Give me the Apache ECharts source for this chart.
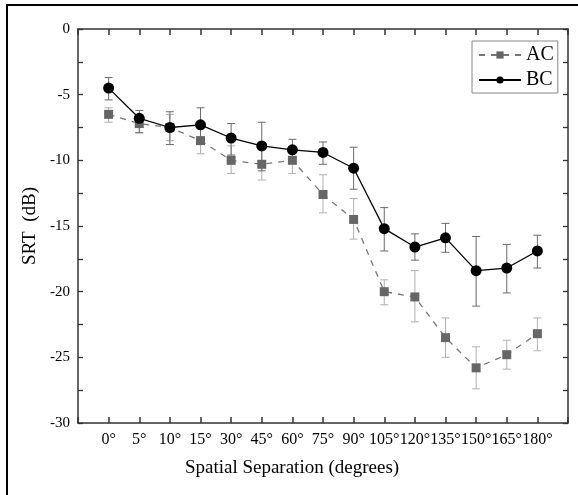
<!DOCTYPE html>
<html>
<head>
<meta charset="utf-8">
<script src="https://cdn.jsdelivr.net/npm/echarts@6/dist/echarts.min.js"></script>
<style>
  html, body { margin: 0; padding: 0; background: #fff; }
  #chart { width: 578px; height: 495px; }
  /* the frame round the figure: only top and left edges show */
  #frame { position: absolute; left: 6px; top: 4px; width: 580px; height: 500px;
           border-left: 2px solid #000; border-top: 2px solid #000; pointer-events: none; }
</style>
</head>
<body>
<div id="chart"></div>
<div id="frame"></div>
<script>
// categories (spatial separation)
var angles = ['0°', '5°', '10°', '15°', '30°', '45°', '60°', '75°', '90°', '105°', '120°', '135°', '150°', '165°', '180°'];

// AC: mean SRT and error bar ends
var acMean = [-6.5, -7.2, -7.5, -8.5, -10.0, -10.3, -10.0, -12.6, -14.5, -20.0, -20.4, -23.5, -25.8, -24.8, -23.2];
var acLow  = [-7.1, -7.9, -8.5, -9.5, -11.0, -11.5, -11.0, -14.0, -16.0, -21.0, -22.3, -25.0, -27.4, -25.9, -24.5];
var acHigh = [-6.0, -6.6, -6.5, -7.4, -8.9, -9.2, -9.1, -11.1, -12.9, -19.1, -18.4, -22.0, -24.2, -23.7, -22.0];

// BC: mean SRT and error bar ends
var bcMean = [-4.5, -6.8, -7.5, -7.3, -8.3, -8.9, -9.2, -9.4, -10.6, -15.2, -16.6, -15.9, -18.4, -18.2, -16.9];
var bcLow  = [-5.4, -7.9, -8.8, -8.7, -9.6, -10.8, -10.1, -10.3, -12.2, -16.9, -17.6, -17.0, -21.1, -20.1, -18.2];
var bcHigh = [-3.7, -6.2, -6.3, -6.0, -7.2, -7.1, -8.4, -8.6, -9.0, -13.6, -15.6, -14.8, -15.8, -16.4, -15.7];

var fontFam = '"Liberation Serif", "DejaVu Serif", serif';

function pairs(arr) {
    return arr.map(function (v, i) { return [i + 1, v]; });
}
function bars(low, high) {
    return low.map(function (v, i) { return [i + 1, v, high[i]]; });
}

// 误差线
function errorBar(color) {
    return function (params, api) {
        var x = api.value(0);
        var lo = api.coord([x, api.value(1)]);
        var hi = api.coord([x, api.value(2)]);
        var w = 4;
        var style = { stroke: color, lineWidth: 1 };
        return {
            type: 'group',
            children: [
                { type: 'line', shape: { x1: lo[0], y1: lo[1], x2: hi[0], y2: hi[1] }, style: style },
                { type: 'line', shape: { x1: lo[0] - w, y1: lo[1], x2: lo[0] + w, y2: lo[1] }, style: style },
                { type: 'line', shape: { x1: hi[0] - w, y1: hi[1], x2: hi[0] + w, y2: hi[1] }, style: style }
            ]
        };
    };
}

var myChart = echarts.init(document.getElementById('chart'));

var frameLine = { show: true, onZero: false, lineStyle: { color: '#333', width: 1.5 } };
var xTick = { show: true, inside: true, length: 6, interval: 0, lineStyle: { color: '#333', width: 1.5 } };
var frameTick = { show: true, inside: true, length: 5, lineStyle: { color: '#333', width: 1.3 } };
var minor = { show: true, splitNumber: 2, length: 5, lineStyle: { color: '#333', width: 1.3 } };

var option = {
    backgroundColor: '#fff',
    animation: false,
    grid: { left: 78, right: 10, top: 29, bottom: 72 },
    legend: {
        left: 472,
        top: 41,
        orient: 'vertical',
        backgroundColor: '#fff',
        borderColor: '#888',
        borderWidth: 1,
        padding: [4, 4, 3, 6],
        itemGap: 5,
        itemWidth: 42,
        itemHeight: 9,
        textStyle: { fontFamily: fontFam, fontSize: 20, color: '#000' },
        data: ['AC', 'BC']
    },
    xAxis: [{
        type: 'value',
        min: 0,
        max: 16,
        interval: 1,
        name: 'Spatial Separation (degrees)',
        nameLocation: 'middle',
        nameGap: 36,
        nameTextStyle: { fontFamily: fontFam, fontSize: 19, color: '#000', padding: [0, 62, 0, 0] },
        axisLine: frameLine,
        axisTick: xTick,
        axisLabel: {
            fontFamily: fontFam, fontSize: 16, color: '#000', margin: 9,
            showMinLabel: true, showMaxLabel: true,
            formatter: function (v) { return angles[v - 1] || ''; }
        },
        splitLine: { show: false }
    }, {
        type: 'value',
        position: 'top',
        min: 0,
        max: 16,
        interval: 1,
        axisLine: frameLine,
        axisTick: xTick,
        axisLabel: { show: false },
        splitLine: { show: false }
    }],
    yAxis: [{
        type: 'value',
        min: -30,
        max: 0,
        interval: 5,
        name: 'SRT  (dB)',
        nameLocation: 'middle',
        nameGap: 37,
        nameTextStyle: { fontFamily: fontFam, fontSize: 19, color: '#000' },
        axisLine: frameLine,
        axisTick: frameTick,
        minorTick: minor,
        axisLabel: { fontFamily: fontFam, fontSize: 15, color: '#000', margin: 8 },
        splitLine: { show: false },
        minorSplitLine: { show: false }
    }, {
        type: 'value',
        position: 'right',
        min: -30,
        max: 0,
        interval: 5,
        axisLine: frameLine,
        axisTick: frameTick,
        minorTick: minor,
        axisLabel: { show: false },
        splitLine: { show: false },
        minorSplitLine: { show: false }
    }],
    series: [
        {
            name: 'AC err',
            type: 'custom',
            renderItem: errorBar('#b0b0b0'),
            data: bars(acLow, acHigh),
            encode: { x: 0, y: [1, 2] },
            z: 1
        },
        {
            name: 'BC err',
            type: 'custom',
            renderItem: errorBar('#6a6a6a'),
            data: bars(bcLow, bcHigh),
            encode: { x: 0, y: [1, 2] },
            z: 1
        },
        {
            name: 'AC',
            type: 'line',
            data: pairs(acMean),
            symbol: 'rect',
            symbolSize: 9,
            itemStyle: { color: '#666' },
            lineStyle: { color: '#777', width: 1.3, type: [6, 6] },
            z: 3
        },
        {
            name: 'BC',
            type: 'line',
            data: pairs(bcMean),
            symbol: 'circle',
            symbolSize: 11,
            itemStyle: { color: '#000' },
            lineStyle: { color: '#000', width: 1.3 },
            z: 4
        }
    ]
};

myChart.setOption(option);
</script>
</body>
</html>
